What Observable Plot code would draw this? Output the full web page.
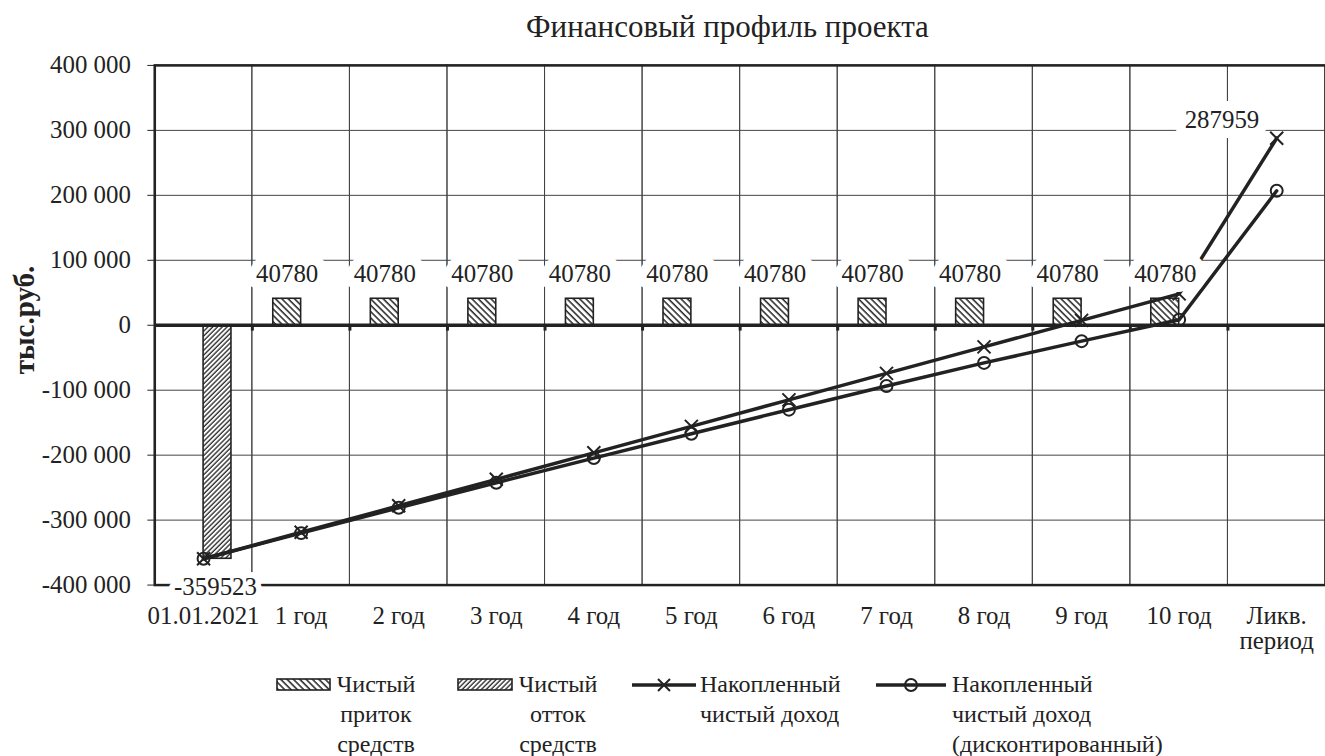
<!DOCTYPE html>
<html>
<head>
<meta charset="utf-8">
<script src="https://cdn.jsdelivr.net/npm/d3@7"></script>
<script src="https://cdn.jsdelivr.net/npm/@observablehq/plot@0.6"></script>
<style>
  body { margin: 0; background: #fff; overflow: hidden; font-family: "Liberation Serif", "Times New Roman", serif; color: #222; }
  #wrap { position: relative; width: 1325px; height: 756px; overflow: hidden; background: #fff; }
  #title { position: absolute; top: 9px; left: 155px; width: 1145px; text-align: center; font-size: 31px; font-family: "Liberation Serif", serif; }
  #ylabel { position: absolute; left: 24px; top: 320px; transform: translate(-50%, -50%) rotate(-90deg); font-weight: bold; font-size: 29px; white-space: nowrap; font-family: "Liberation Serif", serif; }
  #chart { position: absolute; top: 50px; left: 0; }
  .leg { position: absolute; font-size: 24px; line-height: 30px; font-family: "Liberation Serif", serif; }
</style>
</head>
<body>
<svg width="0" height="0" style="position:absolute">
  <defs>
    <pattern id="hatchIn" width="4.5" height="4.5" patternUnits="userSpaceOnUse" patternTransform="rotate(-45)">
      <rect width="4.5" height="4.5" fill="#fff"/>
      <line x1="1" y1="0" x2="1" y2="4.5" stroke="#222" stroke-width="1.5"/>
    </pattern>
    <pattern id="hatchOut" width="3.4" height="3.4" patternUnits="userSpaceOnUse" patternTransform="rotate(45)">
      <rect width="3.4" height="3.4" fill="#fff"/>
      <line x1="1" y1="0" x2="1" y2="3.4" stroke="#222" stroke-width="1.3"/>
    </pattern>
  </defs>
</svg>
<div id="wrap">
  <div id="title">Финансовый профиль проекта</div>
  <div id="ylabel">тыс.руб.</div>
  <div id="chart"></div>
</div>
<script>
// ---- data ----
const categories = ["01.01.2021", "1 год", "2 год", "3 год", "4 год", "5 год", "6 год", "7 год", "8 год", "9 год", "10 год", "Ликв. период"];
const tickLabels = ["01.01.2021", "1 год", "2 год", "3 год", "4 год", "5 год", "6 год", "7 год", "8 год", "9 год", "10 год", "Ликв.\nпериод"];
const inflow = [0, 40780, 40780, 40780, 40780, 40780, 40780, 40780, 40780, 40780, 40780, 0];
const outflow = [-359523, 0, 0, 0, 0, 0, 0, 0, 0, 0, 0, 0];
const cumulative = [-359523, -318743, -277963, -237183, -196403, -155623, -114843, -74063, -33283, 7497, 48277, 287959];
const discounted = [-359523, -320000, -281000, -242500, -204500, -167000, -130000, -93500, -58000, -24500, 8500, 207000];
const yTicks = [-400000, -300000, -200000, -100000, 0, 100000, 200000, 300000, 400000];
const seriesNames = ["Чистый\nприток\nсредств", "Чистый\nотток\nсредств", "Накопленный\nчистый доход", "Накопленный\nчистый доход\n(дисконтированный)"];

const rows = categories.map((c, i) => ({cat: c, inflow: inflow[i], outflow: outflow[i], cum: cumulative[i], disc: discounted[i]}));
const tickMap = Object.fromEntries(categories.map((c, i) => [c, tickLabels[i]]));
const fmt = d => (d < 0 ? "-" : "") + d3.format(",")(Math.abs(d)).replace(/,/g, " ");
const ink = "#222";
const halo = {stroke: "white", strokeWidth: 20, strokeLinejoin: "round", paintOrder: "stroke", fill: ink, fontSize: 25};

const chart = Plot.plot({
  width: 1331,
  height: 640,
  marginLeft: 155,
  marginRight: 0,
  marginTop: 15,
  marginBottom: 103,
  style: {fontFamily: "'Liberation Serif', 'Times New Roman', serif", fontSize: "25px", color: ink, background: "transparent"},
  x: {type: "band", domain: categories, padding: 0, label: null},
  y: {type: "linear", domain: [-400000, 400000], label: null},
  marks: [
    Plot.cell(categories, {x: d => d, fill: "none", stroke: "#444", strokeWidth: 1}),
    Plot.ruleY(yTicks, {stroke: "#444", strokeWidth: 1}),
    Plot.barY(rows.filter(d => d.inflow), {x: "cat", y: "inflow", fill: "url(#hatchIn)", stroke: ink, strokeWidth: 1.6, insetLeft: 21, insetRight: 49}),
    Plot.barY(rows.filter(d => d.outflow), {x: "cat", y: "outflow", fill: "url(#hatchOut)", stroke: ink, strokeWidth: 1.6, insetLeft: 49, insetRight: 21}),
    Plot.ruleY([0], {stroke: ink, strokeWidth: 3.5}),
    Plot.ruleX(categories.slice(1), {x: d => d, dx: -49, y1: 0, y2: -9000, stroke: ink, strokeWidth: 3}),
    Plot.line(rows, {x: "cat", y: "cum", stroke: ink, strokeWidth: 3.5}),
    Plot.dot(rows, {x: "cat", y: "cum", symbol: "times", r: 6, stroke: ink, strokeWidth: 2}),
    Plot.line(rows, {x: "cat", y: "disc", stroke: ink, strokeWidth: 3.5}),
    Plot.dot(rows, {x: "cat", y: "disc", symbol: "circle", r: 6, stroke: ink, fill: "none", strokeWidth: 2}),
    Plot.frame({stroke: ink, strokeWidth: 2.5}),
    Plot.text(rows.filter(d => d.inflow), {x: "cat", y: "inflow", text: d => String(d.inflow), dx: -14, dy: -25, ...halo}),
    Plot.text(rows.filter((d, i) => i === 0), {x: "cat", y: "cum", text: d => String(d.cum), dx: 12, dy: 28, ...halo, strokeWidth: 12}),
    Plot.text(rows.filter((d, i) => i === rows.length - 1), {x: "cat", y: "cum", text: d => String(d.cum), dx: -55, dy: -18, ...halo}),
    Plot.axisY({ticks: yTicks, tickFormat: fmt, tickSize: 7, tickPadding: 17, label: null, stroke: ink}),
    Plot.axisX({tickSize: 0, tickPadding: 21, tickFormat: d => tickMap[d], label: null})
  ]
});
document.getElementById("chart").appendChild(chart);

// ---- legend ----
const wrap = document.getElementById("wrap");
const items = [
  {kind: "bar", fill: "url(#hatchIn)", sx: 277, sw: 53, tx: 333, align: "center", tw: 86},
  {kind: "bar", fill: "url(#hatchOut)", sx: 458, sw: 54, tx: 515, align: "center", tw: 86},
  {kind: "times", sx: 632, sw: 64, tx: 700, align: "left", tw: 170},
  {kind: "circle", sx: 876, sw: 70, tx: 952, align: "left", tw: 200}
];
items.forEach((it, i) => {
  const s = document.createElementNS("http://www.w3.org/2000/svg", "svg");
  s.setAttribute("width", it.sw + 4);
  s.setAttribute("height", 20);
  s.style.position = "absolute";
  s.style.left = (it.sx - 2) + "px";
  s.style.top = "675px";
  let inner = "";
  if (it.kind === "bar") {
    inner = `<rect x="2" y="4" width="${it.sw}" height="11" fill="${it.fill}" stroke="${ink}" stroke-width="1.6"/>`;
  } else {
    const cx = 2 + it.sw / 2;
    inner = `<line x1="2" y1="10" x2="${2 + it.sw}" y2="10" stroke="${ink}" stroke-width="3.5"/>`;
    if (it.kind === "times") inner += `<path d="M${cx - 6},4L${cx + 6},16M${cx + 6},4L${cx - 6},16" stroke="${ink}" stroke-width="2"/>`;
    else inner += `<circle cx="${cx}" cy="10" r="6" fill="none" stroke="${ink}" stroke-width="2"/>`;
  }
  s.innerHTML = inner;
  wrap.appendChild(s);
  const t = document.createElement("div");
  t.className = "leg";
  t.style.left = it.tx + "px";
  t.style.top = "669px";
  t.style.width = it.tw + "px";
  t.style.textAlign = it.align;
  t.innerHTML = seriesNames[i].split("\n").join("<br>");
  wrap.appendChild(t);
});
</script>
</body>
</html>
